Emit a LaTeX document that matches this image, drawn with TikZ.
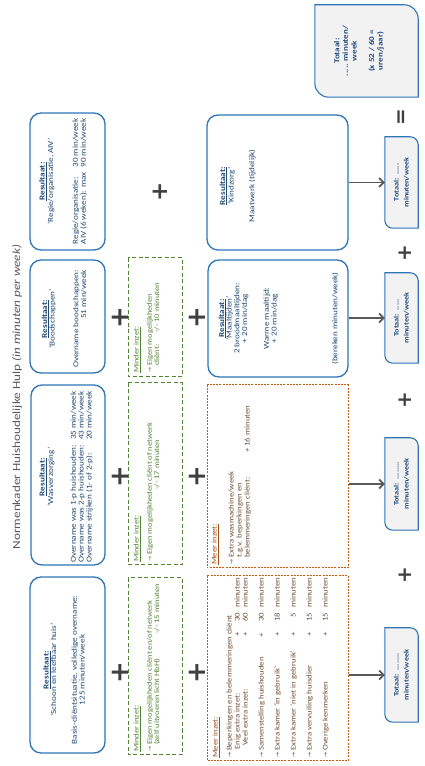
\documentclass[tikz,border=0pt]{standalone}
\usepackage{fontspec}
\setmainfont{Carlito}[FakeStretch=1.2]
\newfontfamily\dejavu{DejaVu Sans}
\usetikzlibrary{arrows.meta}
\definecolor{bblue}{RGB}{46,117,182}
\definecolor{btext}{RGB}{31,72,115}
\definecolor{ggreen}{RGB}{84,130,53}
\definecolor{oorange}{RGB}{197,90,17}
\definecolor{ohead}{RGB}{160,75,20}
\definecolor{otext}{RGB}{110,80,56}
\definecolor{tfill}{RGB}{242,242,242}
\definecolor{ttext}{RGB}{31,73,125}
\definecolor{dgray}{RGB}{64,64,64}
\definecolor{agray}{RGB}{89,89,89}
\newcommand{\arr}{{\dejavu\fontsize{6}{6}\selectfont →}}
\newcommand{\resl}{\underline{\textbf{Resultaat:}}}
\newcommand{\orow}[3]{\makebox[#1pt][l]{#2}\makebox[10pt][c]{+}\makebox[17pt][r]{#3}\hspace{5pt}minuten}
\newcommand{\totbox}[2]{\draw[totline] (#1.west) [rounded corners=#2] -- (#1.north west) -- (#1.north) [sharp corners] -- (#1.north east) -- (#1.east) [rounded corners=#2] -- (#1.south east) -- (#1.south) [sharp corners] -- (#1.south west) -- cycle;}
\begin{document}
\begin{tikzpicture}[x=1pt,y=1pt,
  bluebox/.style={draw=bblue, line width=1.3pt, rounded corners=11pt, inner sep=0pt},
  greenbox/.style={draw=ggreen, line width=1pt, dash pattern=on 4pt off 2.5pt, inner sep=0pt},
  orangebox/.style={draw=oorange, line width=1pt, dash pattern=on 2pt off 1.2pt, inner sep=0pt},
  totnode/.style={inner sep=0pt},
  totline/.style={draw=bblue, line width=1.1pt, fill=tfill},
  btxt/.style={text=btext, align=center, inner sep=0pt, font=\fontsize{7.6}{7.7}\selectfont},
  gtxt/.style={text=ggreen, align=left, inner sep=0pt, anchor=north west, font=\fontsize{7.1}{7.2}\selectfont},
  otxt/.style={text=otext, align=left, inner sep=0pt, anchor=north west, font=\fontsize{7.3}{8}\selectfont},
  ttxt/.style={text=ttext, align=center, inner sep=0pt, font=\bfseries\fontsize{6.8}{10}\selectfont},
  bigplus/.style={text=dgray, inner sep=0pt, font=\dejavu\bfseries\fontsize{26}{26}\selectfont},
  midplus/.style={text=dgray, inner sep=0pt, font=\dejavu\bfseries\fontsize{23}{23}\selectfont},
  smallplus/.style={text=dgray, inner sep=0pt, font=\dejavu\bfseries\fontsize{20}{20}\selectfont},
  conn/.style={draw=agray, line width=1.8pt, -{Straight Barb[length=4.5pt,width=9pt]}}
]
\useasboundingbox (0,0) rectangle (425,766);
\fill[white] (0,0) rectangle (425,766);
\begin{scope}[rotate=90, transform shape]
% title
\node[font=\fontsize{11}{14}\selectfont, text=agray, inner sep=0pt] (title) at (369,-17) {Normenkader Huishoudelijke Hulp \textit{(in minuten per week)}};
% blue result boxes
\node[bluebox, minimum width=176, minimum height=75] (b1) at (101,-67.5) {};
\node[btxt, anchor=north] (b1t) at (96,-43) {\resl\\`Schoon en leefbaar huis'\\[13pt]Basis-cliëntsituatie, volledige overname:\\125 minuten/week};
\node[bluebox, minimum width=180, minimum height=74] (b2) at (291,-68) {};
\node[btxt, anchor=north] (b2t) at (289,-39) {\resl\\[1pt]`Wasverzorging'\\[15pt]\begin{tabular}[t]{@{}l@{\hspace{5pt}}l@{}}Overname was 1-p huishouden: & 35 min/week\\ Overname was 2-p huishouden: & 43 min/week\\ Overname strijken (1- of 2-p): & 20 min/week\end{tabular}};
\node[bluebox, minimum width=113, minimum height=75] (b3) at (449.5,-67.5) {};
\node[btxt, anchor=north] (b3t) at (447,-41.5) {\resl\\`Boodschappen'\\[16pt]\begin{tabular}[t]{@{}r@{}}Overname boodschappen:\\51 min/week\end{tabular}};
\node[bluebox, minimum width=137, minimum height=75] (b4) at (584.5,-67.5) {};
\node[btxt, anchor=north] (b4t) at (584.5,-39) {\resl\\[1pt]`Regie/organisatie, AIV'\\[17pt]\begin{tabular}[t]{@{}l@{\hspace{5pt}}l@{}}Regie/organisatie: & 30 min/week\\AIV (6 weken): max & 90 min/week\end{tabular}};
\node[bluebox, minimum width=117, minimum height=140] (b5) at (447.5,-278) {};
\node[btxt, anchor=north] (b5t) at (447.5,-218.5) {\resl\\`Maaltijden'\\2 broodmaaltijden:\\+ 20 min/dag\\[14pt]Warme maaltijd:\\+ 20 min/dag};
\node[btxt] (b5n) at (447.5,-335) {(bereken minuten/week)};
\node[bluebox, minimum width=135, minimum height=141] (b6) at (583.5,-277.5) {};
\node[btxt, anchor=north] (b6t) at (580,-219.5) {\resl\\[1pt]`Kindzorg'\\[13pt]Maatwerk (tijdelijk)};
% green boxes
\node[greenbox, minimum width=177, minimum height=54] (g1) at (99.5,-155) {};
\node[gtxt] (g1t) at (14,-133.5) {\underline{Minder inzet:}\\[6pt]\arr\ Eigen mogelijkheden cliënt en/of netwerk\\\phantom{\arr\ }\makebox[111pt][l]{(zelf uitvoeren licht HbH)}-/- 15 minuten};
\node[greenbox, minimum width=182, minimum height=54] (g2) at (292,-155) {};
\node[gtxt] (g2t) at (204,-133.5) {\underline{Minder inzet:}\\[6pt]\arr\ Eigen mogelijkheden cliënt of netwerk\\\hspace*{72pt}-/- 17 minuten};
\node[greenbox, minimum width=119, minimum height=54] (g3) at (448.5,-155) {};
\node[gtxt] (g3t) at (393,-133.5) {\underline{Minder inzet:}\\[6pt]\arr\ Eigen mogelijkheden\\\phantom{\arr\ }\makebox[33pt][l]{cliënt:}-/- 10 minuten};
% orange boxes
\node[orangebox, minimum width=185, minimum height=141] (o1) at (97.5,-277.5) {};
\node[otxt] (o1t) at (8,-212.5) {\textcolor{ohead}{\underline{Meer inzet:}}\\[6pt]
\arr\ Beperkingen en belemmeringen cliënt\\
\hspace*{8pt}\orow{110}{Enig extra inzet:}{30}\\
\hspace*{12pt}\orow{106}{Veel extra inzet:}{60}\\[8pt]
\arr\ \orow{111}{Samenstelling huishouden}{30}\\[8pt]
\arr\ \orow{111}{Extra kamer `in gebruik'}{18}\\[8pt]
\arr\ \orow{111}{Extra kamer `niet in gebruik'}{5}\\[8pt]
\arr\ \orow{111}{Extra vervuiling huisdier}{15}\\[8pt]
\arr\ \orow{111}{Overige kenmerken}{15}};
\node[orangebox, minimum width=183, minimum height=141] (o2) at (289.5,-277.5) {};
\node[otxt] (o2t) at (201,-211.5) {\textcolor{ohead}{\underline{Meer inzet:}}\\[9pt]\arr\ Extra wasmachine/week\\\phantom{\arr\ }t.g.v. beperkingen en\\\phantom{\arr\ }\makebox[105pt][l]{belemmeringen cliënt:}+ 16 minuten};
% totals
\node[totnode, minimum width=94, minimum height=33] (t1) at (91,-401.5) {};
\totbox{t1}{8pt}
\node[ttxt] (t1t) at (t1.center) {Totaal:\ \ ........\\minuten/week};
\node[totnode, minimum width=92, minimum height=33] (t2) at (282,-401.5) {};
\totbox{t2}{8pt}
\node[ttxt] (t2t) at (t2.center) {Totaal:\ \ ........\\minuten/week};
\node[totnode, minimum width=90, minimum height=33] (t3) at (448,-401.5) {};
\totbox{t3}{8pt}
\node[ttxt] (t3t) at (t3.center) {Totaal:\ \ .....\\minuten/week};
\node[totnode, minimum width=91, minimum height=33] (t4) at (583.5,-401.5) {};
\totbox{t4}{8pt}
\node[ttxt] (t4t) at (t4.center) {Totaal:\ \ .....\\minuten/week};
\node[totnode, minimum width=92, minimum height=103] (tb) at (715,-366.5) {};
\totbox{tb}{14pt}
\node[ttxt, font=\bfseries\fontsize{7.5}{8.6}\selectfont] (tbt) at (715,-359) {Totaal:\\..... minuten/\\week\\[9pt](x 52 / 60 =\\uren/jaar)};
% operators
\node[bigplus] (p1) at (93,-120) {+};
\node[bigplus] (p2) at (289,-120) {+};
\node[bigplus] (p3) at (448,-120) {+};
\node[bigplus] (p4) at (93,-197) {+};
\node[bigplus] (p5) at (289,-197) {+};
\node[bigplus] (p6) at (448,-197) {+};
\node[midplus] (p7) at (574,-160) {+};
\node[smallplus] (p8) at (191,-405) {+};
\node[smallplus] (p9) at (366,-405) {+};
\node[smallplus] (p10) at (513,-405) {+};
\node[smallplus] (eq) at (649,-403) {=};
% arrows
\draw[conn] (t1.north |- o1.south) -- (t1.north);
\draw[conn] (t2.north |- o2.south) -- (t2.north);
\draw[conn] (t3.north |- b5.south) -- (t3.north);
\draw[conn] (t4.north |- b6.south) -- (t4.north);
\end{scope}
\end{tikzpicture}
\end{document}
